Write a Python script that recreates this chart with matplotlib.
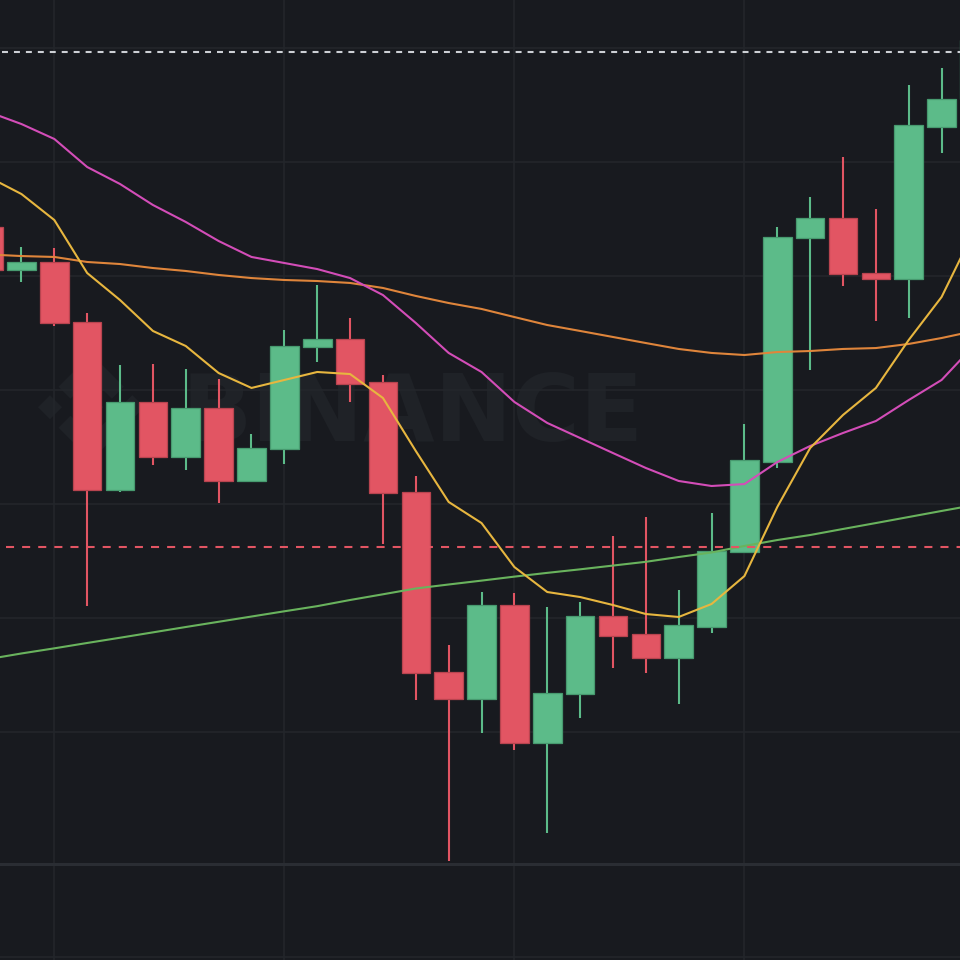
import matplotlib
matplotlib.use("Agg")
import matplotlib.pyplot as plt
import numpy as np
from matplotlib.patches import Polygon
from matplotlib.lines import Line2D
from matplotlib.transforms import Affine2D

plt.rcParams['lines.scale_dashes'] = False

# ---------------- data (price units) ----------------
opens = [154.30, 150.53, 151.23, 145.96, 131.23, 138.95, 134.12, 138.42, 132.02, 134.82,
         143.77, 144.47, 140.70, 131.05, 115.26, 112.89, 121.14, 109.04, 113.33, 120.18,
         118.60, 116.49, 119.21, 125.79, 133.68, 153.33, 155.09, 150.26, 149.74, 163.07,
         165.53]
highs = [154.74, 152.54, 152.46, 146.75, 142.19, 142.28, 141.84, 140.96, 136.14, 145.26,
         149.21, 146.32, 141.32, 132.46, 117.63, 122.28, 122.19, 120.96, 121.40, 127.19,
         128.86, 122.46, 129.21, 137.02, 154.30, 156.93, 160.44, 155.88, 166.75, 168.25,
         171.58]
lows = [150.18, 149.47, 145.61, 121.05, 131.05, 133.42, 132.98, 130.09, 131.93, 133.51,
        142.46, 138.95, 126.49, 112.81, 98.68, 109.91, 108.42, 101.14, 111.23, 115.61,
        115.18, 112.46, 118.68, 125.70, 133.16, 141.75, 149.12, 146.05, 146.32, 160.79,
        165.44]
closes = [150.53, 151.23, 145.88, 131.23, 138.95, 134.12, 138.42, 132.02, 134.91, 143.86,
          144.47, 140.53, 130.96, 115.18, 112.89, 121.14, 109.04, 113.42, 120.18, 118.42,
          116.49, 119.39, 125.88, 133.86, 153.42, 155.09, 150.18, 149.74, 163.25, 165.53,
          170.70]

ma7 = [158.68, 157.19, 154.91, 150.26, 147.89, 145.18, 143.86, 141.49, 140.18, 140.88,
       141.58, 141.40, 139.30, 134.65, 130.18, 128.33, 124.47, 122.28, 121.84, 121.14,
       120.35, 120.09, 121.23, 123.68, 129.74, 134.91, 137.81, 140.18, 144.39, 148.16,
       154.04]
ma25 = [164.39, 163.33, 162.02, 159.56, 158.07, 156.23, 154.74, 153.07, 151.67, 151.14,
        150.61, 149.82, 148.33, 145.88, 143.25, 141.58, 138.95, 137.11, 135.79, 134.47,
        133.16, 132.02, 131.58, 131.75, 133.68, 135.09, 136.23, 137.28, 139.12, 140.88,
        143.95]
ma99 = [151.89, 151.75, 151.67, 151.23, 151.05, 150.70, 150.44, 150.09, 149.82, 149.65,
        149.56, 149.39, 148.95, 148.25, 147.63, 147.11, 146.40, 145.70, 145.18, 144.65,
        144.12, 143.60, 143.25, 143.07, 143.33, 143.42, 143.60, 143.68, 144.04, 144.56,
        145.18]
ma_long = [116.40, 116.89, 117.34, 117.81, 118.27, 118.74, 119.21, 119.67, 120.13, 120.59,
           121.04, 121.58, 122.08, 122.59, 122.94, 123.28, 123.63, 123.96, 124.27, 124.60,
           124.93, 125.35, 125.75, 126.32, 126.84, 127.28, 127.81, 128.33, 128.86, 129.39,
           129.91]

high_line = 169.65      # grey dashed line (highest price)
last_price = 126.27     # red dashed line (last price)
grid_prices = [110, 120, 130, 140, 150, 160, 170]
grid_candles = [2, 9, 16, 23]

# ---------------- style ----------------
BG = '#181a1f'
GRID = '#23262b'
UP = '#5cbb89'
UP_EDGE = '#479a6f'
DOWN = '#e25563'
DOWN_EDGE = '#b8444f'
C_MA7 = '#e7b63f'
C_MA25 = '#d34db8'
C_MA99 = '#df853b'
C_MAL = '#69b35d'

fig = plt.figure(figsize=(9.6, 9.6), dpi=100, facecolor=BG)
ax = fig.add_axes([0, 1 - 863 / 960, 1, 863 / 960])
ax.set_facecolor(BG)
ax.set_xlim(0.347, 29.56)
ax.set_ylim(98.51, 174.21)
ax.axis('off')

for g in grid_prices:
    ax.axhline(g, color=GRID, lw=1.2, zorder=1)
for g in grid_candles:
    ax.axvline(g, color=GRID, lw=1.2, zorder=1)

# watermark (pixel coordinates of the figure, y downwards)
pix = Affine2D().scale(1 / 960, -1 / 960).translate(0, 1) + fig.transFigure
WM = '#1f2227'
ax.text(182, 441, 'BINANCE', transform=pix, fontsize=66.5, fontweight='bold',
        family='DejaVu Sans', color=WM, ha='left', va='baseline', zorder=0.5)
logo = [
    [(38.73, 53.2), (63.3, 28.64), (87.88, 53.22), (102.18, 38.92), (63.3, 0), (24.43, 38.88)],
    [(0, 63.31), (14.3, 49.01), (28.6, 63.31), (14.3, 77.61)],
    [(38.73, 73.41), (63.3, 97.98), (87.88, 73.4), (102.18, 87.69), (63.3, 126.57), (24.43, 87.73)],
    [(98, 63.31), (112.3, 49.01), (126.6, 63.31), (112.3, 77.61)],
    [(77.83, 63.3), (63.3, 48.77), (48.77, 63.29), (63.3, 77.83)],
]
for poly in logo:
    pts = [(38 + u * 0.84, 354 + v * 0.84) for u, v in poly]
    ax.add_patch(Polygon(pts, closed=True, transform=pix, facecolor=WM,
                         edgecolor='none', zorder=0.5))

# candles
x = np.arange(len(opens))
o = np.array(opens); c = np.array(closes)
h = np.array(highs); l = np.array(lows)
up = c >= o
fill = np.where(up, UP, DOWN)
edge = np.where(up, UP_EDGE, DOWN_EDGE)
ax.vlines(x, l, h, colors=fill, lw=1.5, zorder=2)
ax.bar(x, np.abs(c - o), bottom=np.minimum(o, c), width=0.87, color=fill,
       edgecolor=edge, linewidth=0.9, zorder=3)

# moving averages
ax.plot(x, ma_long, color=C_MAL, lw=1.5, zorder=4)
ax.plot(x, ma99, color=C_MA99, lw=1.5, zorder=4)
ax.plot(x, ma25, color=C_MA25, lw=1.5, zorder=4)
ax.plot(x, ma7, color=C_MA7, lw=1.5, zorder=4)

# price lines
ax.axhline(high_line, xmin=0.002, color='#cdd0d5', lw=1.5, dashes=(4.3, 4.3), zorder=5)
ax.axhline(last_price, xmin=0.006, color=DOWN, lw=1.5, dashes=(5.8, 5.8), zorder=5)

# lower pane
ax2 = fig.add_axes([0, 0, 1, 96 / 960])
ax2.set_facecolor(BG)
ax2.set_xlim(0.347, 29.56)
ax2.set_ylim(0, 1)
ax2.axis('off')
for g in grid_candles:
    ax2.axvline(g, color=GRID, lw=1.2, zorder=1)
ax2.axhline(0.03, color=GRID, lw=1.2, zorder=1)

fig.add_artist(Line2D([0, 1], [(960 - 863.5) / 960] * 2, transform=fig.transFigure,
                      color='#2a2d33', lw=2.2))

fig.savefig('out.png', dpi=100, facecolor=BG)
